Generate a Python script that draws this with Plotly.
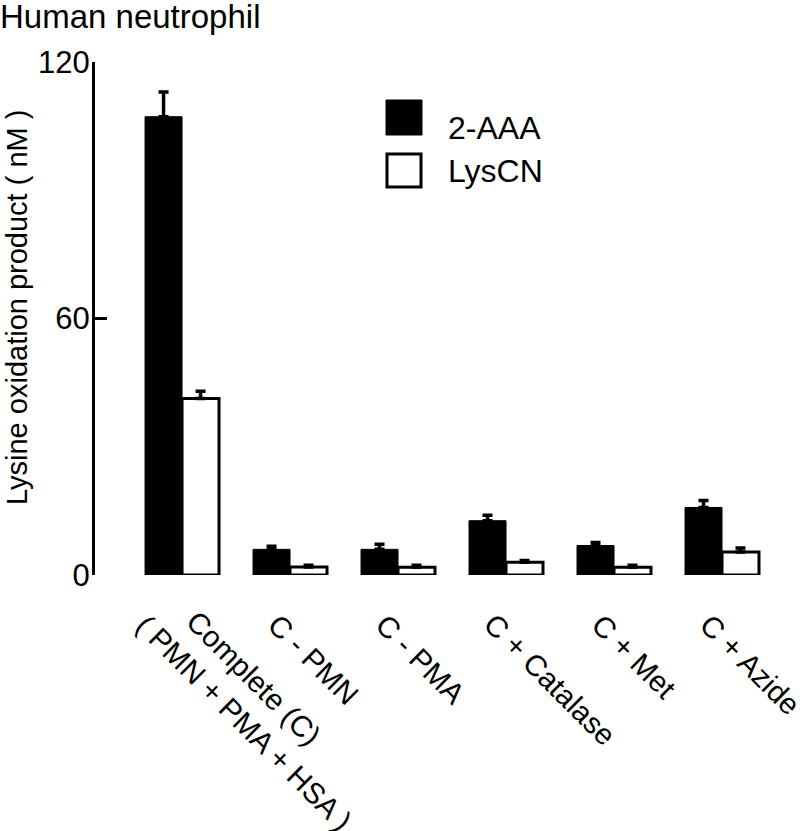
import plotly.graph_objects as go

NB = "\u00a0"
categories = ["Complete (C)<br>( PMN + PMA + HSA )", "C - PMN", "C - PMA",
              "C + Catalase", "C + Met", "C + Azide"]
aaa_values = [107.2, 6.0, 6.0, 12.7, 6.9, 15.8]
aaa_errors = [5.8, 0.7, 1.2, 1.3, 0.7, 1.6]
lyscn_values = [41.3, 1.9, 1.8, 3.0, 1.8, 5.4]
lyscn_errors = [1.7, 0.4, 0.5, 0.4, 0.5, 0.9]
y_ticks = [0, 60, 120]

FONT = "Liberation Sans, Arial, sans-serif"

fig = go.Figure()
fig.add_trace(go.Bar(
    x=categories, y=aaa_values, name="2-AAA",
    marker=dict(color="black", line=dict(color="black", width=1)),
    error_y=dict(type="data", symmetric=False, array=aaa_errors,
                 arrayminus=[0] * len(aaa_errors), color="black",
                 thickness=3.5, width=5),
))
fig.add_trace(go.Bar(
    x=categories, y=lyscn_values, name="LysCN",
    marker=dict(color="white", line=dict(color="black", width=3)),
    error_y=dict(type="data", symmetric=False, array=lyscn_errors,
                 arrayminus=[0] * len(lyscn_errors), color="black",
                 thickness=3.5, width=5),
))

# plot area in pixels: x 95..785, y 62..575
L, R, T, B = 95, 785, 62, 575
W, H = 800, 831
def px(x):
    return (x - L) / (R - L)
def py(y):
    return (B - y) / (B - T)

shapes = [
    dict(type="rect", xref="paper", yref="paper", x0=px(386), x1=px(422),
         y0=py(135), y1=py(100), fillcolor="black", line=dict(color="black", width=1)),
    dict(type="rect", xref="paper", yref="paper", x0=px(387), x1=px(421),
         y0=py(187), y1=py(154), fillcolor="white", line=dict(color="black", width=3)),
]
annotations = [
    dict(text="2-AAA", xref="paper", yref="paper", x=px(446), y=py(128),
         xanchor="left", yanchor="middle", showarrow=False,
         font=dict(family=FONT, size=32, color="black")),
    dict(text="LysCN", xref="paper", yref="paper", x=px(446), y=py(171),
         xanchor="left", yanchor="middle", showarrow=False,
         font=dict(family=FONT, size=32, color="black")),
    dict(text="Human neutrophil", xref="paper", yref="paper", x=px(-2), y=py(17),
         xanchor="left", yanchor="middle", showarrow=False,
         font=dict(family=FONT, size=33, color="black")),
    dict(text="Lysine oxidation product ( nM )", xref="paper", yref="paper",
         x=px(17), y=py(308), xanchor="center", yanchor="middle",
         textangle=-90, showarrow=False,
         font=dict(family=FONT, size=29, color="black")),
]

# category labels, rotated 45 degrees below each group
for i, cat in enumerate(categories):
    multi = "<br>" in cat
    text = (NB * 4 + cat) if multi else cat
    annotations.append(dict(
        text=text, xref="x", yref="paper", x=cat,
        y=py(578 if multi else 605), xshift=(-55 if multi else -31),
        xanchor="left", yanchor="top", align="left", textangle=45,
        showarrow=False, font=dict(family=FONT, size=29.5, color="black")))

fig.update_layout(
    width=W, height=H,
    margin=dict(l=L, r=W - R, t=T, b=H - B, autoexpand=False),
    plot_bgcolor="white", paper_bgcolor="white",
    barmode="group", bargap=0.315, bargroupgap=0,
    showlegend=False,
    shapes=shapes, annotations=annotations,
    xaxis=dict(type="category", range=[-0.806, (R - 182) / 108],
               showticklabels=False,
               showline=False, showgrid=False, zeroline=False, ticks="",
               automargin=False),
    yaxis=dict(range=[0, 120], tickmode="array", tickvals=y_ticks,
               ticktext=[str(v) for v in y_ticks],
               showline=True, linecolor="black", linewidth=3,
               ticks="inside", ticklen=12, tickwidth=3, tickcolor="black",
               showgrid=False, zeroline=False, automargin=False,
               ticklabelstandoff=-4,
               tickfont=dict(family=FONT, size=31, color="black")),
)

fig.write_html("out.html", config={"displayModeBar": False},
               post_script="document.body.style.margin='0';document.body.style.overflow='hidden';")
